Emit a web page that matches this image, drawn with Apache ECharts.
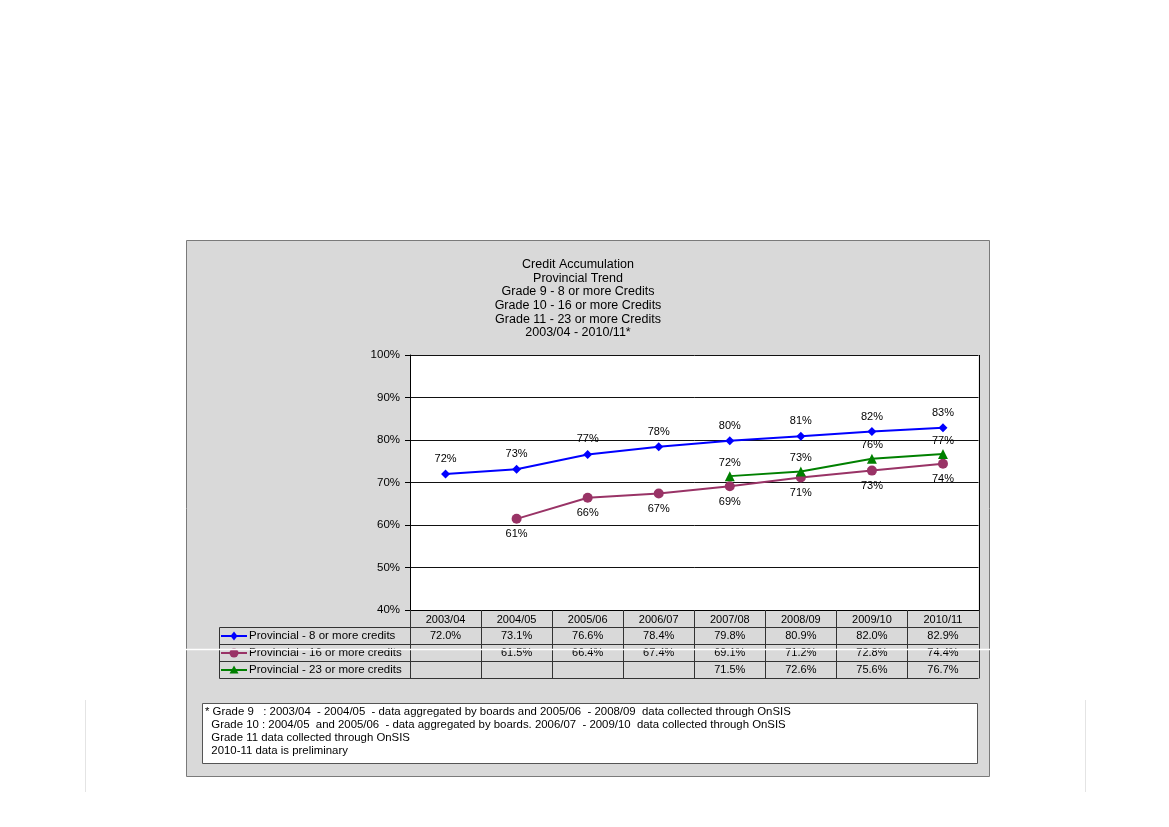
<!DOCTYPE html>
<html>
<head>
<meta charset="utf-8">
<script src="https://cdn.jsdelivr.net/npm/echarts@6/dist/echarts.min.js"></script>
<style>
html,body{margin:0;padding:0;background:#fff;}
#main{width:1169px;height:827px;}
</style>
</head>
<body>
<div id="main"></div>
<script>
const categories = ['2003/04','2004/05','2005/06','2006/07','2007/08','2008/09','2009/10','2010/11'];
const seriesNames = ['Provincial - 8 or more credits','Provincial - 16 or more credits','Provincial - 23 or more credits'];
const grade9 = [72.0, 73.1, 76.6, 78.4, 79.8, 80.9, 82.0, 82.9];
const grade10 = [null, 61.45, 66.4, 67.4, 69.1, 71.2, 72.8, 74.4];
const grade11 = [null, null, null, null, 71.5, 72.6, 75.6, 76.7];
const titleLines = ['Credit Accumulation','Provincial Trend','Grade 9 - 8 or more Credits','Grade 10 - 16 or more Credits','Grade 11 - 23 or more Credits','2003/04 - 2010/11*'];
const footnoteLines = [
  '* Grade 9   : 2003/04  - 2004/05  - data aggregated by boards and 2005/06  - 2008/09  data collected through OnSIS',
  '  Grade 10 : 2004/05  and 2005/06  - data aggregated by boards. 2006/07  - 2009/10  data collected through OnSIS',
  '  Grade 11 data collected through OnSIS',
  '  2010-11 data is preliminary'
];
const yMin = 40, yMax = 100, yStep = 10;

const FONT = 'Arial, "Liberation Sans", sans-serif';
const colors = ['#0000ff', '#993366', '#008000'];
const symbols = ['diamond', 'circle', 'triangle'];
const symbolSizes = [9, 10, 10];
const labelPos = ['top', 'bottom', 'top'];
const labelDist = [5, 5, 3];
const allData = [grade9, grade10, grade11];

const chart = echarts.init(document.getElementById('main'), null, {renderer: 'canvas'});

const G = {left: 410, top: 355, width: 568.5, height: 255};

const option = {
  backgroundColor: '#ffffff',
  animation: false,
  title: {
    text: titleLines.join('\n'),
    left: 573,
    top: 253,
    textAlign: 'center',
    textStyle: {fontFamily: FONT, fontSize: 12.5, fontWeight: 'normal', color: '#000', lineHeight: 13.6}
  },
  grid: {left: G.left, top: G.top, width: G.width, height: G.height, show: false},
  xAxis: {
    type: 'category',
    data: categories,
    boundaryGap: true,
    axisLine: {show: true, lineStyle: {color: '#000', width: 1}},
    axisTick: {show: false},
    axisLabel: {show: true, margin: 4, fontFamily: FONT, fontSize: 11, color: '#000'},
    splitLine: {show: false}
  },
  yAxis: {
    type: 'value',
    min: yMin, max: yMax, interval: yStep,
    axisLine: {show: true, lineStyle: {color: '#000', width: 1}},
    axisTick: {show: true, length: 5, lineStyle: {color: '#000'}},
    axisLabel: {margin: 10, fontFamily: FONT, fontSize: 11.5, color: '#000', formatter: v => v + '%'},
    splitLine: {show: true, lineStyle: {color: '#111', width: 1}}
  },
  series: allData.map((d, i) => ({
    name: seriesNames[i],
    type: 'line',
    data: d,
    connectNulls: false,
    symbol: symbols[i],
    symbolSize: symbolSizes[i],
    showAllSymbol: true,
    lineStyle: {color: colors[i], width: 2},
    itemStyle: {color: colors[i]},
    label: {
      show: true,
      position: labelPos[i],
      distance: labelDist[i],
      fontFamily: FONT, fontSize: 11, color: '#000',
      formatter: p => Math.round(p.value) + '%'
    },
    z: 3 + i
  }))
};
chart.setOption(option);

function buildGraphics() {
  const els = [];
  // outer gray chart box
  els.push({type: 'rect', z: -10, shape: {x: 186.5, y: 240.5, width: 803, height: 536}, style: {fill: '#d9d9d9', stroke: '#7a7a7a', lineWidth: 1}});
  const x0 = chart.convertToPixel({xAxisIndex: 0}, 0);
  const x1 = chart.convertToPixel({xAxisIndex: 0}, 1);
  const cw = x1 - x0;
  const gl = x0 - cw / 2;
  const gr = gl + cw * categories.length;
  const yBottom = chart.convertToPixel({yAxisIndex: 0}, yMin);
  const yTop = chart.convertToPixel({yAxisIndex: 0}, yMax);
  // white plot area (behind split lines) and right border
  els.push({type: 'rect', z: -5, shape: {x: gl, y: yTop, width: gr - gl, height: yBottom - yTop}, style: {fill: '#ffffff'}});
  els.push({type: 'line', z: 10, shape: {x1: Math.round(gr) + 0.5, y1: yTop, x2: Math.round(gr) + 0.5, y2: yBottom}, style: {stroke: '#000', lineWidth: 1}});
  const rowH = 17;
  const headTop = yBottom;
  const headBot = headTop + 17;
  const legLeft = 219.5;
  const lineCol = '#333';
  const tableBottom = Math.round(headBot + seriesNames.length * rowH) + 0.5;
  for (let r = 0; r <= seriesNames.length; r++) {
    const y = Math.round(headBot + r * rowH) + 0.5;
    els.push({type: 'line', z: 20, shape: {x1: legLeft, y1: y, x2: gr, y2: y}, style: {stroke: lineCol, lineWidth: 1}});
  }
  els.push({type: 'line', z: 20, shape: {x1: legLeft, y1: Math.round(headBot) + 0.5, x2: legLeft, y2: tableBottom}, style: {stroke: lineCol, lineWidth: 1}});
  for (let k = 0; k <= categories.length; k++) {
    const x = Math.round(gl + k * cw) + 0.5;
    els.push({type: 'line', z: 20, shape: {x1: x, y1: headTop, x2: x, y2: tableBottom}, style: {stroke: lineCol, lineWidth: 1}});
  }
  seriesNames.forEach((nm, r) => {
    const cy = headBot + r * rowH + rowH / 2 + 0.5;
    els.push({type: 'line', z: 21, shape: {x1: 221, y1: cy, x2: 247, y2: cy}, style: {stroke: colors[r], lineWidth: 2}});
    const sx = 234;
    if (symbols[r] === 'diamond') {
      els.push({type: 'polygon', z: 22, shape: {points: [[sx, cy - 4.5], [sx + 3.5, cy], [sx, cy + 4.5], [sx - 3.5, cy]]}, style: {fill: colors[r]}});
    } else if (symbols[r] === 'circle') {
      els.push({type: 'circle', z: 22, shape: {cx: sx, cy: cy, r: 4.5}, style: {fill: colors[r]}});
    } else {
      els.push({type: 'polygon', z: 22, shape: {points: [[sx, cy - 4.5], [sx + 4.5, cy + 3.5], [sx - 4.5, cy + 3.5]]}, style: {fill: colors[r]}});
    }
    els.push({type: 'text', z: 22, x: 249, y: cy, style: {text: nm, fontFamily: FONT, fontSize: 11.5, fill: '#000', textVerticalAlign: 'middle', textAlign: 'left'}});
    allData[r].forEach((v, i) => {
      if (v === null || v === undefined) return;
      const cx = chart.convertToPixel({xAxisIndex: 0}, i);
      els.push({type: 'text', z: 22, x: cx, y: cy, style: {text: v.toFixed(1) + '%', fontFamily: FONT, fontSize: 11, fill: '#000', textVerticalAlign: 'middle', textAlign: 'center'}});
    });
  });
  // white artifact line across the picture
  els.push({type: 'line', z: 30, shape: {x1: 186, y1: 649.5, x2: 1169, y2: 649.5}, style: {stroke: '#ffffff', lineWidth: 1.5}});
  // faint slide edge lines
  els.push({type: 'line', z: -20, shape: {x1: 85.5, y1: 700, x2: 85.5, y2: 792}, style: {stroke: '#e4e4e4', lineWidth: 1}});
  els.push({type: 'line', z: -20, shape: {x1: 1085.5, y1: 700, x2: 1085.5, y2: 792}, style: {stroke: '#e4e4e4', lineWidth: 1}});
  // footnote box
  els.push({type: 'rect', z: 20, shape: {x: 202.5, y: 703.5, width: 775, height: 60}, style: {fill: '#ffffff', stroke: '#555', lineWidth: 1}});
  footnoteLines.forEach((t, i) => {
    els.push({type: 'text', z: 21, x: 205, y: 712 + i * 12.8, style: {text: t, fontFamily: FONT, fontSize: 11.4, fill: '#000', textVerticalAlign: 'middle', textAlign: 'left'}});
  });
  chart.setOption({graphic: {elements: els}});
}
buildGraphics();
</script>
</body>
</html>
